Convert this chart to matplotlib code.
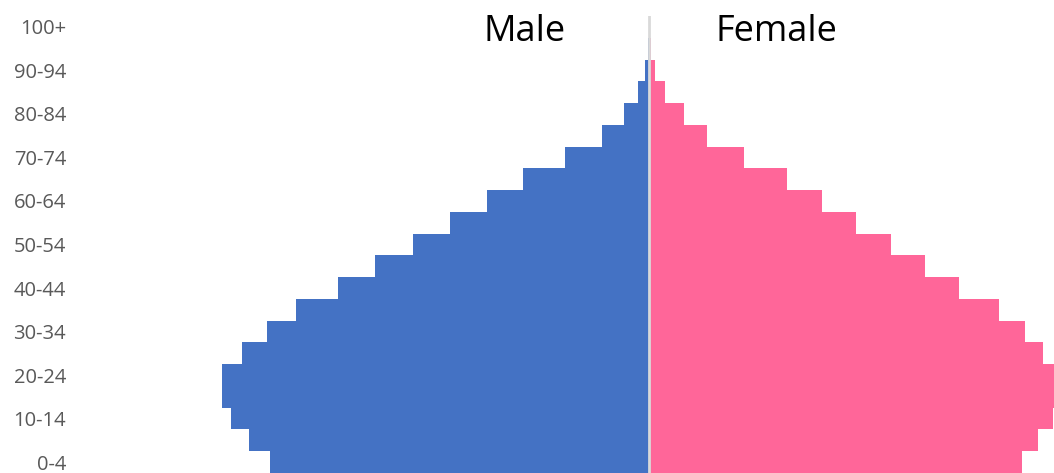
import matplotlib.pyplot as plt

# Age groups, bottom to top
age_groups = ['0-4', '5-9', '10-14', '15-19', '20-24', '25-29', '30-34', '35-39',
              '40-44', '45-49', '50-54', '55-59', '60-64', '65-69', '70-74',
              '75-79', '80-84', '85-89', '90-94', '95-99', '100+']

male = [379, 400, 418, 427, 427, 407, 382, 353, 311, 274, 236, 199, 162,
        126, 84, 47, 25, 11, 4.5, 1, 0.2]
female = [373, 389, 404, 412, 412, 394, 376, 350, 310, 276, 242, 207, 173,
          138, 95, 58, 35, 16, 6, 2, 0.5]

fig = plt.figure(figsize=(10.54, 4.73), dpi=100)
ax = fig.add_axes([80 / 1054, 0, 1 - 80 / 1054, 1 - 16 / 473])

y = range(len(age_groups))
ax.barh(y, [-v for v in male], height=1.0, color='#4472C4')
ax.barh(y, female, height=1.0, color='#FF6699')
ax.axvline(0, color='#D9D9D9', lw=2, ymax=1.0)

ax.set_xlim(-569, 405)
ax.set_ylim(-0.5, 20.5)

ax.set_yticks(list(y)[::2])
ax.set_yticklabels(age_groups[::2], fontsize=14.5, color='#595959', family='Open Sans')
ax.tick_params(axis='y', length=0, pad=10)
ax.set_xticks([])
for s in ax.spines.values():
    s.set_visible(False)

ax.text(-124, 19.75, 'Male', fontsize=26, ha='center', va='center', family='Open Sans', clip_on=False)
ax.text(127, 19.75, 'Female', fontsize=26, ha='center', va='center', family='Open Sans', clip_on=False)

fig.savefig('out.png', dpi=100)
